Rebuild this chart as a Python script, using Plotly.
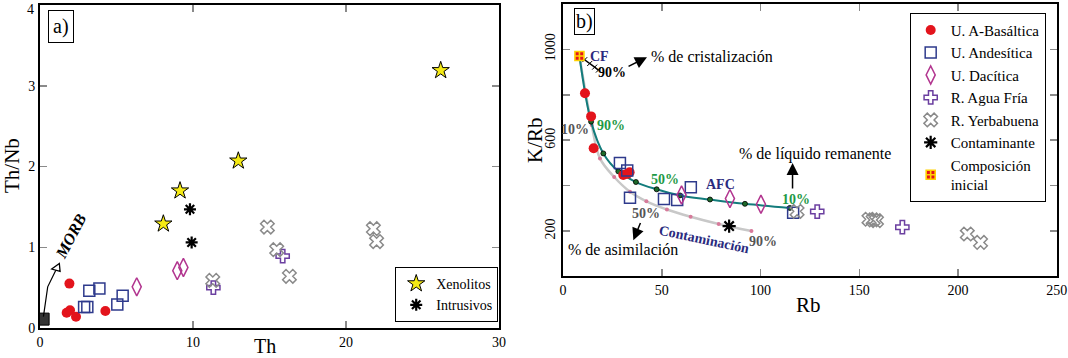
import plotly.graph_objects as go

# ---------------- Panel a) Th vs Th/Nb ----------------
a_basal_th = [1.92, 1.74, 1.96, 2.35, 4.27]
a_basal_thnb = [0.55, 0.19, 0.22, 0.14, 0.21]
a_andes_th = [3.22, 3.88, 2.88, 3.09, 5.40, 5.05]
a_andes_thnb = [0.46, 0.49, 0.26, 0.26, 0.40, 0.29]
a_dac_th = [6.32, 8.97, 9.37]
a_dac_thnb = [0.51, 0.71, 0.75]
a_agua_th = [11.33, 15.86]
a_agua_thnb = [0.50, 0.89]
a_yerba_th = [11.29, 14.86, 15.47, 16.30, 21.79, 22.00]
a_yerba_thnb = [0.59, 1.25, 0.97, 0.64, 1.23, 1.07]
a_xeno_th = [8.06, 9.15, 12.96, 26.19]
a_xeno_thnb = [1.29, 1.70, 2.07, 3.19]
a_intr_th = [9.80, 9.91]
a_intr_thnb = [1.47, 1.06]
a_morb_th = [0.20]
a_morb_thnb = [0.11]

# ---------------- Panel b) Rb vs K/Rb ----------------
b_basal_rb = [11.1, 14.2, 15.5, 30.5, 32.5, 33.7]
b_basal_krb = [807, 705, 565, 447, 452, 459]
b_andes_rb = [28.8, 32.5, 33.9, 51.1, 57.8, 64.7, 116.5]
b_andes_krb = [500, 467, 347, 341, 337, 393, 281]
b_dac_rb = [60.0, 84.5, 100.2]
b_dac_krb = [359, 343, 318]
b_agua_rb = [128.7, 171.8]
b_agua_krb = [286, 217]
b_yerba_rb = [118.5, 154.9, 157.0, 158.7, 204.7, 211.4]
b_yerba_krb = [287, 252, 249, 246, 187, 150]
b_contam_rb = [84.1]
b_contam_krb = [222]
b_ini_rb = [8.3]
b_ini_krb = [971]

afc_rb = [8.3, 14.2, 20.4, 28.0, 36.9, 47.4, 59.2, 74.4, 92.1, 114.8]
afc_krb = [971, 682, 542, 463, 416, 384, 357, 339, 320, 302]
cont_rb = [8.3, 14.5, 18.7, 25.9, 33.9, 42.2, 52.6, 64.6, 78.8, 95.4]
cont_krb = [971, 667, 520, 438, 373, 331, 295, 263, 231, 200]
cf_rb = [8.3, 11.0, 13.5, 16.0, 17.9]
cf_krb = [971, 955, 938, 922, 909]

x_ticks_a = [0, 10, 20, 30]
y_ticks_a = [0, 1, 2, 3, 4]
y_text_a = ["0", "1", "2", "3", ""]
x_ticks_b = [0, 50, 100, 150, 200, 250]
y_ticks_b = [200, 400, 600, 800, 1000]
y_text_b = ["200", "", "600", "", "1000"]

SERIF = "Liberation Serif"
RED = "#e3141c"
NAVY = "#2e3a8c"
MAG = "#b2358f"
PURP = "#6b3fa0"
GRAY = "#8a8a8a"
TEAL = "#137c7c"
GREEN = "#1e9a46"
TNAVY = "#2a2a7e"
TGRAY = "#555555"

fig = go.Figure()

def pt(x, y, name, symbol, size, color, lcolor, lw, xa, ya, legend=None, show=False):
    fig.add_trace(go.Scatter(
        x=x, y=y, name=name, mode="markers", xaxis=xa, yaxis=ya,
        marker=dict(symbol=symbol, size=size, color=color,
                    line=dict(color=lcolor, width=lw)),
        showlegend=show, legend=legend if legend else "legend"))

# ---- panel a traces
pt(a_morb_th, a_morb_thnb, "MORB", "square", 12, "#333333", "#000000", 1, "x", "y")
pt(a_basal_th, a_basal_thnb, "U. A-Basáltica", "circle", 10, RED, RED, 0, "x", "y")
pt(a_andes_th, a_andes_thnb, "U. Andesítica", "square-open", 11, NAVY, NAVY, 1.5, "x", "y")
pt(a_dac_th, a_dac_thnb, "U. Dacítica", "diamond-tall-open", 13, MAG, MAG, 1.5, "x", "y")
pt(a_agua_th, a_agua_thnb, "R. Agua Fría", "cross-open", 11, PURP, PURP, 1.5, "x", "y")
pt(a_yerba_th, a_yerba_thnb, "R. Yerbabuena", "x-open", 12, GRAY, GRAY, 1.5, "x", "y")
pt(a_xeno_th, a_xeno_thnb, "Xenolitos", "star", 13, "#f5ea14", "#000000", 1, "x", "y",
   legend="legend2", show=True)
pt(a_intr_th, a_intr_thnb, "Intrusivos", "asterisk-open", 10, "#000000", "#000000", 2.2, "x", "y",
   legend="legend2", show=True)

# ---- panel b curves
fig.add_trace(go.Scatter(x=cont_rb, y=cont_krb, mode="lines+markers", xaxis="x2", yaxis="y2",
                         line=dict(color="#c8c8c8", width=2.5, shape="spline"),
                         marker=dict(size=4, color="#d77a9a"), showlegend=False))
fig.add_trace(go.Scatter(x=afc_rb, y=afc_krb, mode="lines+markers", xaxis="x2", yaxis="y2",
                         line=dict(color=TEAL, width=2, shape="spline"),
                         marker=dict(size=5, color="#1d6b2a", line=dict(color="#000", width=0.8)),
                         showlegend=False))
fig.add_trace(go.Scatter(x=cf_rb, y=cf_krb, mode="lines+markers", xaxis="x2", yaxis="y2",
                         line=dict(color="#000", width=1.5),
                         marker=dict(symbol="line-ne", size=5, line=dict(color="#000", width=1)),
                         showlegend=False))

# ---- panel b points
pt(b_basal_rb, b_basal_krb, "U. A-Basáltica", "circle", 10, RED, RED, 0, "x2", "y2", show=True)
pt(b_andes_rb, b_andes_krb, "U. Andesítica", "square-open", 11, NAVY, NAVY, 1.5, "x2", "y2", show=True)
pt(b_dac_rb, b_dac_krb, "U. Dacítica", "diamond-tall-open", 13, MAG, MAG, 1.5, "x2", "y2", show=True)
pt(b_agua_rb, b_agua_krb, "R. Agua Fría", "cross-open", 11, PURP, PURP, 1.5, "x2", "y2", show=True)
pt(b_yerba_rb, b_yerba_krb, "R. Yerbabuena", "x-open", 12, GRAY, GRAY, 1.5, "x2", "y2", show=True)
pt(b_contam_rb, b_contam_krb, "Contaminante", "asterisk-open", 11, "#000", "#000", 2.2, "x2", "y2", show=True)
pt(b_ini_rb, b_ini_krb, "Composición<br>inicial", "square-cross", 9, RED, "#ffd200", 1.6, "x2", "y2", show=True)

axis_common = dict(showline=True, linecolor="#000", linewidth=2, mirror="ticks",
                   ticks="inside", ticklen=7, tickwidth=1.5, tickcolor="#8a8a8a",
                   showgrid=False, zeroline=False, automargin=False,
                   ticklabeloverflow="allow",
                   tickfont=dict(family=SERIF, size=14, color="#000"))

fig.update_layout(
    width=1068, height=358, margin=dict(l=0, r=0, t=0, b=0),
    paper_bgcolor="white", plot_bgcolor="white",
    font=dict(family=SERIF, color="#000"),
    xaxis=dict(domain=[0.0375, 0.4672], range=[0, 30], tickvals=x_ticks_a, **axis_common),
    yaxis=dict(domain=[0.0838, 0.986], range=[0, 4], tickvals=y_ticks_a, ticktext=y_text_a,
               **axis_common),
    xaxis2=dict(domain=[0.5272, 0.9895], range=[0, 250], tickvals=x_ticks_b, anchor="y2", **axis_common),
    yaxis2=dict(domain=[0.2277, 0.9888], range=[0, 1200], tickvals=y_ticks_b, ticktext=y_text_b,
                tickangle=-90, anchor="x2", **axis_common),
    legend=dict(x=0.9791, xanchor="right", y=0.9645, yanchor="top",
                bgcolor="white", bordercolor="#000", borderwidth=1,
                font=dict(family=SERIF, size=15, color="#000"), itemwidth=30),
    legend2=dict(x=0.4665, xanchor="right", y=0.1006, yanchor="bottom",
                 bgcolor="white", bordercolor="#000", borderwidth=1,
                 font=dict(family=SERIF, size=14, color="#000"), itemwidth=30,
                 tracegroupgap=0),
)

ann = []
def txt(x, y, s, size=14, color="#000", bold=False, xa="x2", ya="y2", angle=0, italic=False, **kw):
    if bold:
        s = "<b>" + s + "</b>"
    if italic:
        s = "<i>" + s + "</i>"
    d = dict(x=x, y=y, xref=xa, yref=ya, text=s, showarrow=False, textangle=angle,
             xanchor="center", yanchor="middle",
             font=dict(family=SERIF, size=size, color=color))
    d.update(kw)
    ann.append(d)

# axis titles
txt(12 / 1068, 1 - 166 / 358, "Th/Nb", size=21, xa="paper", ya="paper", angle=-90)
txt(265 / 1068, 1 - 346 / 358, "Th", size=20, xa="paper", ya="paper")
txt(535 / 1068, 1 - 140 / 358, "K/Rb", size=21, xa="paper", ya="paper", angle=-90)
txt(808 / 1068, 1 - 305 / 358, "Rb", size=21, xa="paper", ya="paper")
# top y tick label of panel a (kept inside the picture)
txt(30 / 1068, 1 - 9 / 358, "4", size=14, xa="paper", ya="paper")

# panel labels
txt(1.37, 3.73, "a)", size=20, xa="x", ya="y", bordercolor="#000", borderwidth=1, borderpad=4, bgcolor="white")
txt(11.1, 1122, "b)", size=20, bordercolor="#000", borderwidth=1, borderpad=1, bgcolor="white")

# MORB
txt(2.0, 1.13, "MORB", size=16, bold=True, italic=True, xa="x", ya="y", angle=-62)

# panel b labels
txt(18.5, 971, "CF", size=14, color=TNAVY, bold=True)
txt(25.0, 897, "90%", size=14, bold=True)
txt(75.6, 971, "% de cristalización", size=16)
txt(5.9, 648, "10%", size=14, color=TGRAY, bold=True)
txt(24.1, 667, "90%", size=14, color=GREEN, bold=True)
txt(51.6, 425, "50%", size=14, color=GREEN, bold=True)
txt(79.9, 403, "AFC", size=14, color=TNAVY, bold=True)
txt(117.8, 340, "10%", size=14, color=GREEN, bold=True)
txt(127.5, 539, "% de líquido remanente", size=16)
txt(42.0, 278, "50%", size=14, color=TGRAY, bold=True)
txt(30.3, 121, "% de asimilación", size=16)
txt(71.3, 161, "Contaminación", size=14, color=TNAVY, bold=True, angle=12)
txt(101.2, 153, "90%", size=14, color=TGRAY, bold=True)

# arrows
def arrow(x0, y0, x1, y1, xa="x2", ya="y2"):
    ann.append(dict(x=x1, y=y1, ax=x0, ay=y0, xref=xa, yref=ya, axref=xa, ayref=ya,
                    text="", showarrow=True, arrowhead=2, arrowsize=1.6, arrowwidth=1.5,
                    arrowcolor="#000"))

arrow(32.4, 922, 42.5, 966)
arrow(116.2, 381, 116.2, 500)
arrow(39.5, 242, 35.6, 160)

fig.update_layout(annotations=ann)

# MORB arrow path and open triangle head
fig.add_shape(type="path", xref="x", yref="y",
              path="M 0.22 0.14 L 0.50 0.51 L 1.03 0.715",
              line=dict(color="#000", width=1.2))
fig.add_shape(type="path", xref="x", yref="y",
              path="M 1.26 0.80 L 0.76 0.73 L 1.31 0.70 Z",
              line=dict(color="#000", width=1.3), fillcolor="white")

fig.write_html("out.html", config={"displayModeBar": False, "staticPlot": True},
               post_script="document.body.style.margin='0';")
